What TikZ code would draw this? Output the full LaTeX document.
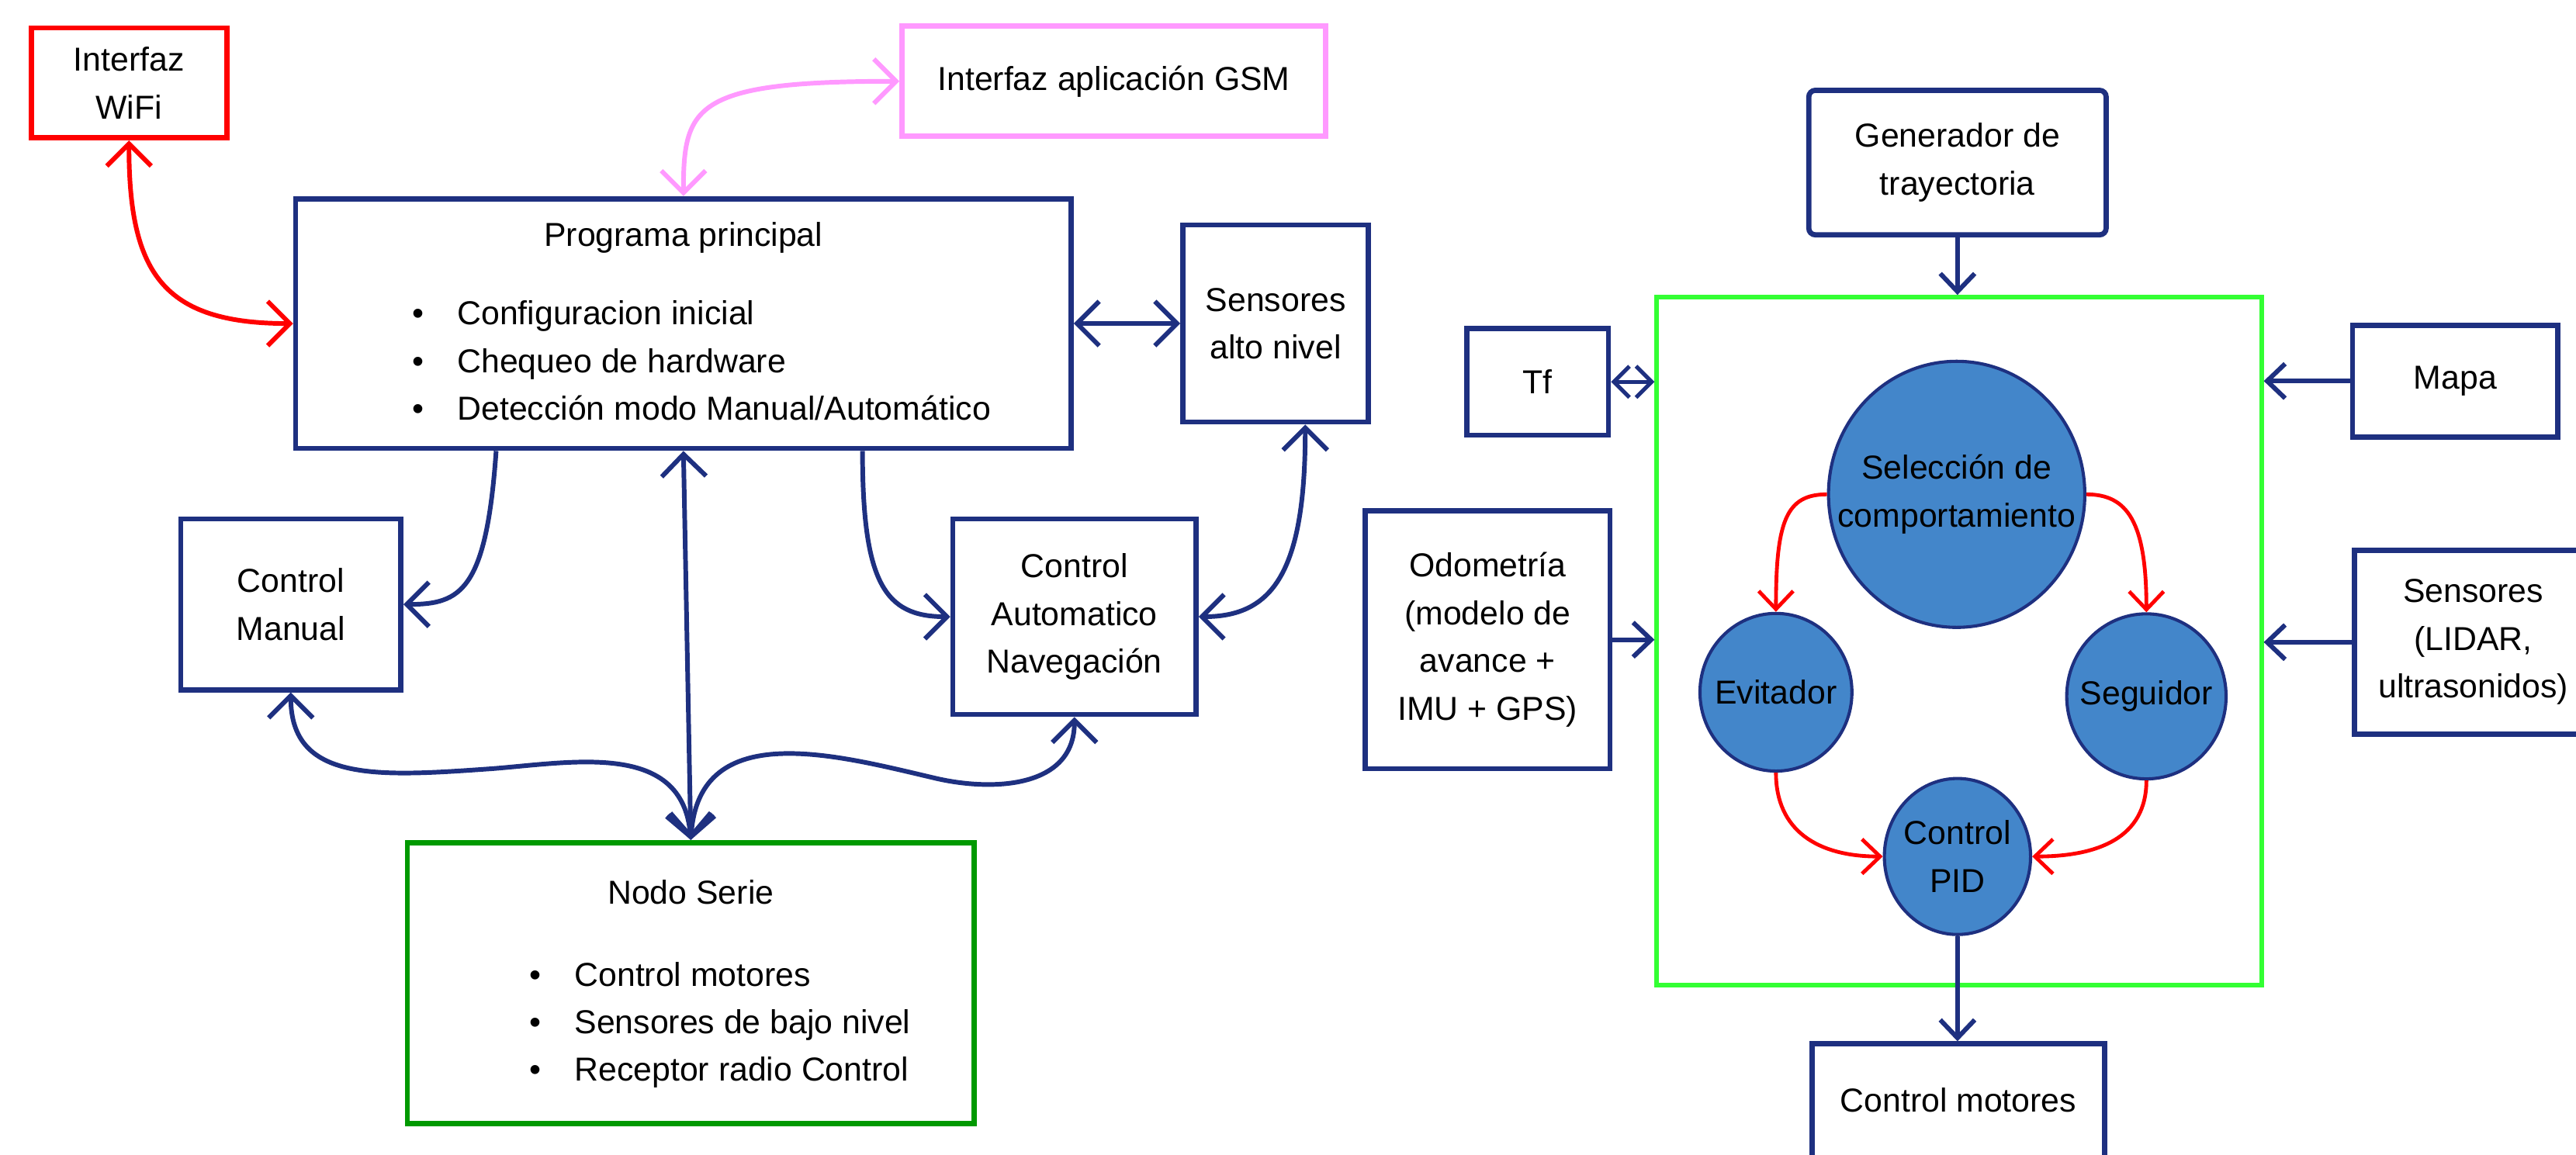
\documentclass[tikz,border=0pt]{standalone}
\usepackage{fontspec}
\setmainfont{Liberation Sans}
\usetikzlibrary{arrows.meta,shapes.geometric,calc}

\definecolor{navy}{HTML}{1E3080}
\definecolor{gsmpink}{HTML}{FF99FF}
\definecolor{seriegreen}{HTML}{009900}
\definecolor{behgreen}{HTML}{33FF33}
\definecolor{bubblefill}{HTML}{4386CA}

\tikzset{
    block/.style={draw=navy, line width=1.8pt, align=center, inner sep=0pt},
    bubble/.style={ellipse, draw=navy, line width=1.1pt, fill=bubblefill, inner sep=0pt},
    wire/.style={color=navy, line width=1.6pt},
    smalltips/.style={>={Straight Barb[length=2.2mm, width=4.2mm]}},
    redwire/.style={draw=red, line width=1.3pt, -{Straight Barb[length=2.2mm, width=4.2mm]}},
}
\newcommand{\listdot}{\makebox[5.5mm][l]{\textbullet}}

\begin{document}
\begin{tikzpicture}[x=0.2mm, y=0.2mm, font=\fontsize{11.5}{16.5}\selectfont,
    >={Straight Barb[length=2.7mm, width=5.4mm]}]
    \useasboundingbox (0,0) rectangle (1568,703);

    \node (wifi) [block, draw=red, minimum width=23.8mm, minimum height=13.4mm] at (78.5,652.5) {Interfaz\\WiFi};
    \node (gsm) [block, draw=gsmpink, minimum width=51.6mm, minimum height=13.4mm] at (678,653.5) {Interfaz aplicación GSM};
    \node (prog) [block, minimum width=94.4mm, minimum height=30.4mm] at (416,506)
        {\begin{tabular}{@{}c@{}}Programa principal\\[3.8mm]
         \hspace{4.4mm}\begin{tabular}[t]{@{}l@{}}\listdot Configuracion inicial\\ \listdot Chequeo de hardware\\ \listdot Detección modo Manual/Automático\end{tabular}\end{tabular}};
    \node (sens) [block, minimum width=22.6mm, minimum height=24mm] at (776.5,506) {Sensores\\alto nivel};
    \node (manual) [block, minimum width=26.8mm, minimum height=20.8mm] at (177,335) {Control\\Manual};
    \node (auto) [block, minimum width=29.6mm, minimum height=23.8mm] at (654,327.5) {Control\\Automatico\\Navegación};
    \node (serie) [block, draw=seriegreen, minimum width=69mm, minimum height=34.2mm] at (420.5,104.5)
        {\begin{tabular}{@{}c@{}}Nodo Serie\\[4.2mm]
         \hspace{7.1mm}\begin{tabular}[t]{@{}l@{}}\listdot Control motores\\ \listdot Sensores de bajo nivel\\ \listdot Receptor radio Control\end{tabular}\end{tabular}};

    \draw[wire, draw=red, <->] (wifi.south) .. controls +(0,-80) and +(-80,0) .. (prog.west);
    \draw[wire, draw=gsmpink, <->] (gsm.west) .. controls +(-125,0) and +(0,55) .. (prog.north);
    \path[wire, <->] (prog.east) edge (sens.west);
    \path[wire, <->] (prog.south) edge (serie.north);
    \draw[wire, ->] ($(prog.south)+(-114,0)$) .. controls +(-6,-85) and +(35,0) .. (manual.east);
    \draw[wire, ->] ($(prog.south)+(109,0)$) .. controls +(0,-80) and +(-40,0) .. (auto.west);
    \draw[wire, <->] ($(sens.south)+(18,0)$) .. controls +(0,-90) and +(45,0) .. (auto.east);
    \draw[wire, <->] (manual.south) .. controls +(0,-55) and +(-70,-5) .. (300,235)
        .. controls +(50,4) and +(-5,60) .. (serie.north);
    \draw[wire, <->] (auto.south) .. controls +(0,-43) and +(35,-8) .. (570,229)
        .. controls +(-60,14) and +(5,75) .. (serie.north);

    \node (gen) [block, rounded corners=0.8mm, minimum width=36.2mm, minimum height=17.6mm] at (1191.5,604) {Generador de\\trayectoria};
    \node (beh) [block, draw=behgreen, line width=1.6pt, minimum width=73.6mm, minimum height=83.8mm] at (1192.5,312.5) {};
    \node (tf) [block, minimum width=17.2mm, minimum height=13mm] at (936,470.5) {Tf};
    \node (mapa) [block, minimum width=25mm, minimum height=13.6mm] at (1494.5,471) {Mapa};
    \node (odom) [block, minimum width=29.8mm, minimum height=31.4mm] at (905.5,313.5) {Odometría\\(modelo de\\avance +\\IMU + GPS)};
    \node (lidar) [block, minimum width=29mm, minimum height=22.4mm] at (1505.5,312) {Sensores\\(LIDAR,\\ultrasonidos)};
    \node (sel) [bubble, minimum width=31.2mm, minimum height=32.4mm, label={[align=center]center:Selección de\\comportamiento}] at (1191,402) {};
    \node (evit) [bubble, minimum width=18.5mm, minimum height=19.2mm, label=center:Evitador] at (1081,281.5) {};
    \node (seg) [bubble, minimum width=19.4mm, minimum height=20.1mm, label=center:Seguidor] at (1306.5,279) {};
    \node (pid) [bubble, minimum width=17.8mm, minimum height=19mm, label={[align=center]center:Control\\PID}] at (1191.5,181.5) {};
    \node (motores) [block, anchor=north, minimum width=35.6mm, minimum height=20mm, text depth=6.4mm] at (1192,69) {Control motores};

    \path[wire, smalltips, ->] (gen.south) edge (gen.south |- beh.north);
    \path[wire, line width=1.4pt, >={Straight Barb[length=1.9mm, width=3.8mm]}, <->] (tf.east) edge (tf.east -| beh.west);
    \path[wire, smalltips, ->] (mapa.west) edge (mapa.west -| beh.east);
    \path[wire, smalltips, ->] (odom.east) edge (odom.east -| beh.west);
    \path[wire, smalltips, ->] (lidar.west) edge (lidar.west -| beh.east);
    \path[wire, smalltips, ->] (pid.south) edge (pid.south |- motores.north);

    \draw[redwire] (sel.west) .. controls +(-25,0) and +(0,55) .. (evit.north);
    \draw[redwire] (sel.east) .. controls +(25,0) and +(0,55) .. (seg.north);
    \draw[redwire] (evit.south) .. controls +(0,-35) and +(-40,0) .. (pid.west);
    \draw[redwire] (seg.south) .. controls +(0,-35) and +(40,0) .. (pid.east);
\end{tikzpicture}
\end{document}
